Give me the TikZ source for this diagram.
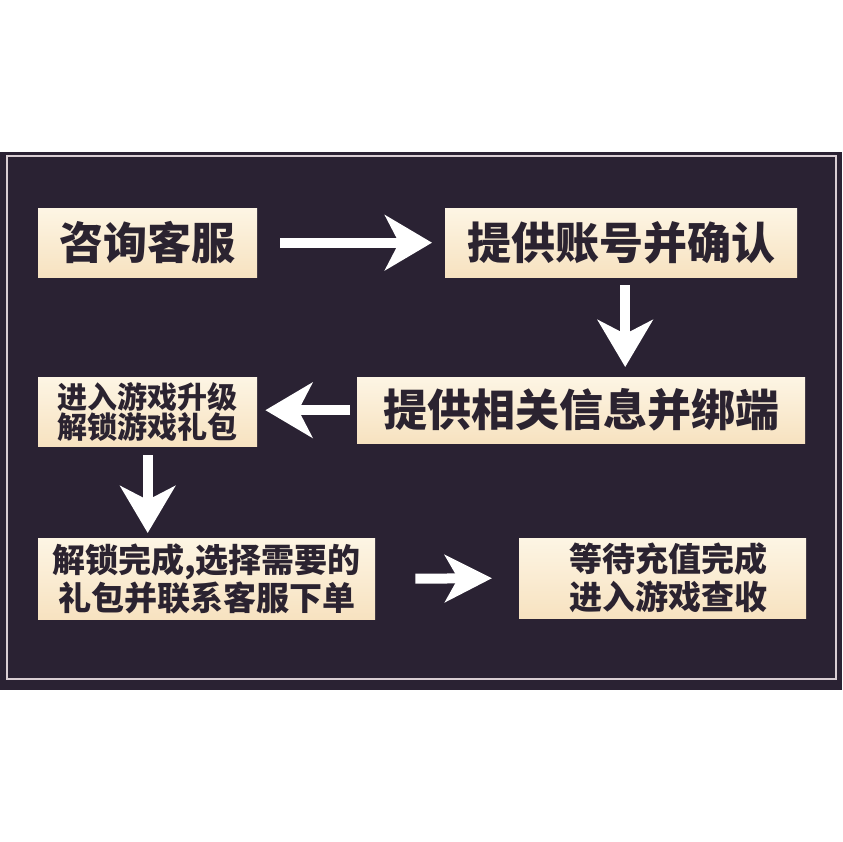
\documentclass[tikz,border=0pt]{standalone}
\usepackage{fontspec}
\newfontfamily\cjk{Noto Sans CJK SC}
\usetikzlibrary{arrows.meta,calc}
\definecolor{panel}{HTML}{2A2233}
\definecolor{edgeline}{HTML}{D9CED3}
\definecolor{boxtop}{HTML}{FDF5E4}
\definecolor{boxbot}{HTML}{F7E2C0}
\definecolor{ink}{HTML}{2B2330}
\begin{document}
\begin{tikzpicture}[x=1pt,y=-1pt,
  box/.style={anchor=north west, inner sep=0pt, top color=boxtop, bottom color=boxbot, text=ink, align=center},
  arr/.style={draw=white, line width=10pt, -{Stealth[length=47pt,width=55pt,inset=14pt]}},
  arrsmall/.style={draw=white, line width=10pt, -{Stealth[length=47pt,width=47pt,inset=13pt]}}]
\useasboundingbox (0,0) rectangle (842,842);
\fill[white] (0,0) rectangle (842,842);
\fill[panel] (0,152) rectangle (842,690);
\draw[edgeline, line width=2pt] (7,156) rectangle (836,679);

\node[box, minimum width=219pt, minimum height=69pt,
  font=\cjk\bfseries\fontsize{44}{44}\selectfont] (b1) at (38,208) {咨询客服};
\node[box, minimum width=352pt, minimum height=69pt,
  font=\cjk\bfseries\fontsize{44}{44}\selectfont] (b2) at (445,208) {提供账号并确认};
\node[box, minimum width=448pt, minimum height=66pt,
  font=\cjk\bfseries\fontsize{44}{44}\selectfont] (b3) at (357,377) {提供相关信息并绑端};
\node[box, minimum width=219pt, minimum height=69pt,
  font=\cjk\bfseries\fontsize{30}{30}\selectfont] (b4) at (38,377) {进入游戏升级\\解锁游戏礼包};
\node[box, minimum width=337pt, minimum height=81pt,
  font=\cjk\bfseries\fontsize{33}{38}\selectfont] (b5) at (38,538) {解锁完成,选择需要的\\礼包并联系客服下单};
\node[box, minimum width=287pt, minimum height=80pt,
  font=\cjk\bfseries\fontsize{33}{38}\selectfont] (b6) at (519,538) {\hspace*{12pt}等待充值完成\\\hspace*{12pt}进入游戏查收};

\draw[arr] ([xshift=23pt]b1.east) -- ([xshift=-13pt]b2.west);
\draw[arr] ([xshift=4pt,yshift=-8pt]b2.south) -- ([xshift=44pt,yshift=10pt]b3.north);
\draw[arr] ([xshift=-7pt]b3.west) -- ($(b3.west -| b4.east)+(8,0)$);
\draw[arr] ([yshift=-9pt]b4.south) -- ($(b4.south |- b5.north)+(0,-5)$);
\draw[arrsmall] ([xshift=40pt]b5.east) -- ([xshift=-27pt]b6.west);
\end{tikzpicture}
\end{document}
